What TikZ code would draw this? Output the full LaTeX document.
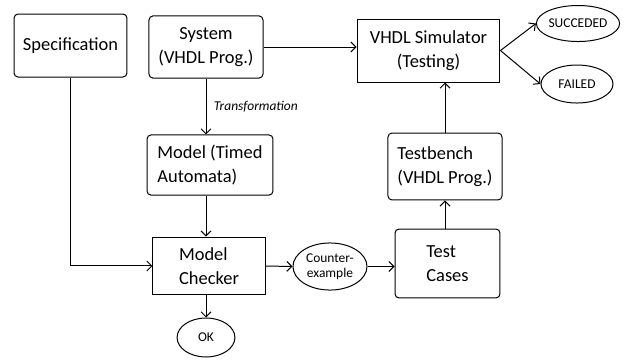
\documentclass[tikz,border=0pt]{standalone}
\usepackage{fontspec}
\setmainfont{Carlito}
\usetikzlibrary{shapes.geometric,arrows.meta}
\tikzset{
	box/.style={draw, line width=1pt, rounded corners=4pt, align=left, inner sep=0pt, font=\fontsize{18.5}{24}\selectfont},
	sharpbox/.style={box, sharp corners},
	oval/.style={draw, ellipse, line width=1pt, inner sep=0pt, align=center, font=\fontsize{13.5}{15}\selectfont},
	flow/.style={line width=1pt, -{Straight Barb[length=5pt,width=10pt]}}
}
\begin{document}
\begin{tikzpicture}
		\useasboundingbox (0,0) rectangle (22,12.763);
		\node[box, minimum width=3.98cm, minimum height=2.22cm] (spec) at (2.486,11.158) {Specification};
		\node[box, align=center, minimum width=4.02cm, minimum height=2.19cm] (sys) at (7.263,11.106) {System\\(VHDL Prog.)};
		\node[box, minimum width=4.44cm, minimum height=2.12cm] (mod) at (7.404,6.945) {Model (Timed\\Automata)};
		\node[sharpbox, minimum width=3.95cm, minimum height=2.04cm] (chk) at (7.369,3.385) {Model\\Checker};
		\node[oval, minimum width=2.04cm, minimum height=1.375cm] (ok) at (7.263,0.864) {OK};
		\node[oval, minimum width=2.61cm, minimum height=1.66cm] (cex) at (11.634,3.367) {Counter-\\example};
		\node[box, minimum width=3.70cm, minimum height=2.43cm] (tc) at (15.777,3.473) {Test\\Cases};
		\node[box, minimum width=4.02cm, minimum height=2.36cm] (tb) at (15.689,6.893) {Testbench\\(VHDL Prog.)};
		\node[sharpbox, align=center, minimum width=5.04cm, minimum height=2.22cm] (sim) at (15.107,10.982) {VHDL Simulator\\(Testing)};
		\node[oval, minimum width=2.54cm, minimum height=1.27cm] (ok1) at (20.378,11.934) {SUCCEDED};
		\node[oval, minimum width=2.54cm, minimum height=1.34cm] (fail) at (20.343,9.801) {FAILED};
		% connectors
		\draw[flow] (sys.south) -- node[right=4pt, font=\fontsize{13.5}{15}\selectfont\itshape] {Transformation} (sys.south |- mod.north);
		\draw[flow] (sys.south |- mod.south) -- (sys.south |- chk.north);
		\draw[flow] (spec.south) |- (chk.west);
		\draw[flow] (ok.north |- chk.south) -- (ok.north);
		\draw[flow] (chk.east) -- (cex.west);
		\draw[flow] (cex.east) -- (cex.east -| tc.west);
		\draw[flow] (tb.south |- tc.north) -- (tb.south);
		\draw[flow] (tb.north) -- (tb.north |- sim.south);
		\draw[flow] (sys.east) -- (sys.east -| sim.west);
		\draw[flow] (sim.east) -- (ok1.west);
		\draw[flow] (sim.east) -- (fail.west);
		\end{tikzpicture}
\end{document}
